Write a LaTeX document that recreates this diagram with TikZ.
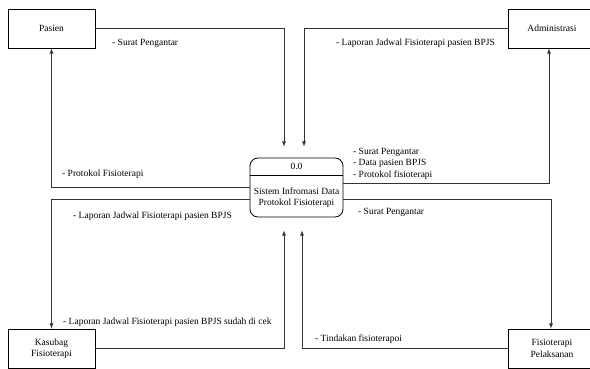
\documentclass[tikz,border=0pt]{standalone}
\usepackage{fontspec}
\setmainfont{Liberation Serif}
\usetikzlibrary{arrows}

\tikzset{
  entity/.style={draw,line width=0.8pt,minimum width=88pt,minimum height=39pt,align=center,inner sep=0pt},
  flow/.style={-latex,line width=0.8pt,draw=black!80},
  flowlabel/.style={anchor=west,align=left,inner sep=0pt,font=\fontsize{9.5}{11.5}\selectfont}
}

\begin{document}
\begin{tikzpicture}[x=1pt,y=-1pt,font=\fontsize{9.5}{11.5}\selectfont]
      \useasboundingbox (0,0) rectangle (590,369);
      \clip (0,0) rectangle (590,369);
      \node[entity,minimum width=87pt] (pasien) at (51.5,28.5) {Pasien};
      \node[entity] (admin) at (552,28.5) {Administrasi};
      \node[entity,minimum width=87pt] (kasubag) at (51.5,348.5) {Kasubag\\Fisioterapi};
      \node[entity] (fisio) at (552,348.5) {Fisioterapi\\Pelaksanan};
      \node[draw,line width=0.8pt,rounded corners=8pt,minimum width=93pt,minimum height=59pt] (proc) at (296.5,187.5) {};
      \draw[line width=0.8pt] (proc.west |- 0,175) -- (proc.east |- 0,175);
      \node (procid) at (296.5,166) {0.0};
      \node[align=center,inner sep=0pt] (procname) at (296.5,197.5) {Sistem Infromasi Data\\Protokol Fisioterapi};
      \draw[flow,shorten >=11pt] (pasien.east) -| ([xshift=-12.5pt]proc.north);
      \draw[flow,shorten >=11pt] (admin.west) -| ([xshift=7.5pt]proc.north);
      \draw[flow] (proc.west) -| (pasien.south);
      \draw[flow] ([yshift=4.5pt]proc.east) -| ([xshift=-3pt]admin.south);
      \draw[flow] ([yshift=-11.5pt]proc.west) -| (kasubag.north);
      \draw[flow] ([yshift=-11.5pt]proc.east) -| ([xshift=-1pt]fisio.north);
      \draw[flow,shorten >=13pt] (kasubag.east) -| ([xshift=-12.5pt]proc.south);
      \draw[flow,shorten >=13pt] (fisio.west) -| ([xshift=5.5pt]proc.south);
      \node[flowlabel] (l-surat) at (112,43) {- Surat Pengantar};
      \node[flowlabel] (l-jadwal) at (336,43) {- Laporan Jadwal Fisioterapi pasien BPJS};
      \node[flowlabel] (l-protokol) at (62,174) {- Protokol Fisioterapi};
      \node[flowlabel] (l-admin) at (353,163.5) {- Surat Pengantar\\- Data pasien BPJS\\- Protokol fisioterapi};
      \node[flowlabel] (l-kasubag) at (73,216) {- Laporan Jadwal Fisioterapi pasien BPJS};
      \node[flowlabel] (l-pelaksana) at (358,212) {- Surat Pengantar};
      \node[flowlabel] (l-cek) at (63,322) {- Laporan Jadwal Fisioterapi pasien BPJS sudah di cek};
      \node[flowlabel] (l-tindakan) at (315,339) {- Tindakan fisioterapoi};
    \end{tikzpicture}
\end{document}
